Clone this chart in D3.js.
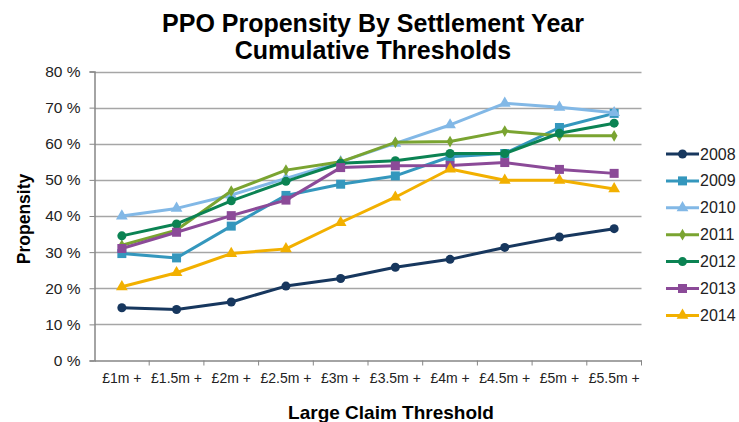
<!DOCTYPE html>
<html>
<head>
<meta charset="utf-8">
<script src="https://cdn.jsdelivr.net/npm/d3@7"></script>
<style>
body { margin: 0; background: #fff; }
svg text { font-family: "Liberation Sans", Arial, sans-serif; }
</style>
</head>
<body>
<svg id="canvas"></svg>
<script>
let thresholds = ["£1m +","£1.5m +","£2m +","£2.5m +","£3m +","£3.5m +","£4m +","£4.5m +","£5m +","£5.5m +"];
let years = ["2008","2009","2010","2011","2012","2013","2014"];

let y2008 = [14.6,14.1,16.2,20.6,22.7,25.8,28.0,31.3,34.2,36.5];
let y2009 = [29.6,28.4,37.2,45.7,48.8,51.1,56.4,57.3,64.5,68.4];
let y2010 = [40.0,42.1,45.8,50.4,55.0,60.1,65.2,71.2,70.1,68.6];
let y2011 = [31.9,36.1,46.9,52.7,55.0,60.4,60.6,63.5,62.2,62.2];
let y2012 = [34.5,37.8,44.2,49.6,54.6,55.3,57.3,57.3,62.9,65.7];
let y2013 = [31.0,35.5,40.1,44.4,53.4,53.9,54.0,54.8,52.9,51.8];
let y2014 = [20.4,24.3,29.6,30.9,38.2,45.2,53.0,49.9,49.9,47.5];

let yTicks = [0,10,20,30,40,50,60,70,80];

let colors = ["#17375e","#3497bd","#82b8e6","#7aa431","#0b8353","#8b4a98","#f2b000"];
let shapes = ["circle","square","triangle","diamond","circle","square","triangle"];

let seriesValues = [y2008,y2009,y2010,y2011,y2012,y2013,y2014];

let width = 739;
let height = 422;
let plotLeft = 94.5;
let plotRight = 641.5;
let plotTop = 71.5;
let plotBottom = 360.5;

let canvas = d3.select("#canvas");
canvas.attr("width",width).attr("height",height);

let xScale = d3.scaleBand()
               .domain(thresholds)
               .range([plotLeft,plotRight]);

let yScale = d3.scaleLinear()
               .domain([0,80])
               .range([plotBottom,plotTop]);

let symbolFor = (shape) =>{
    if(shape==="circle") return d3.symbol(d3.symbolCircle,64);
    if(shape==="square") return d3.symbol(d3.symbolSquare,81);
    if(shape==="triangle") return d3.symbol(d3.symbolTriangle,60);
    return d3.symbol(d3.symbolDiamond,40);
}

// gridlines
canvas.append("g")
      .selectAll("line")
      .data(yTicks.filter(d=>d>0))
      .enter()
      .append("line")
      .attr("x1",plotLeft)
      .attr("x2",plotRight)
      .attr("y1",d=>Math.round(yScale(d))+0.5)
      .attr("y2",d=>Math.round(yScale(d))+0.5)
      .attr("stroke","#a6a6a6")
      .attr("stroke-width",1.3)

// y axis
let yAxis = d3.axisLeft(yScale)
              .tickValues(yTicks)
              .tickSize(5)
              .tickPadding(9)
              .tickFormat(d=>d+" %");

let gy = canvas.append("g")
      .attr("transform","translate("+plotLeft+",0)")
      .call(yAxis);
gy.select(".domain").attr("stroke","#868686").attr("stroke-width",1.5);
gy.selectAll(".tick line").attr("stroke","#868686");
gy.selectAll(".tick text").attr("font-size","15.5px").attr("fill","#222")
  .style("font-family","'Liberation Sans', Arial, sans-serif");

// x axis
let xAxis = d3.axisBottom(xScale)
              .tickSize(0)
              .tickPadding(13);

let gx = canvas.append("g")
      .attr("transform","translate(0,"+plotBottom+")")
      .call(xAxis);
gx.select(".domain").attr("stroke","#868686").attr("stroke-width",1.5);
gx.selectAll(".tick text").attr("font-size","14px").attr("fill","#222")
  .style("font-family","'Liberation Sans', Arial, sans-serif");

// tick marks at band boundaries
canvas.append("g")
      .selectAll("line")
      .data(thresholds)
      .enter()
      .append("line")
      .attr("x1",d=>xScale(d)+xScale.bandwidth())
      .attr("x2",d=>xScale(d)+xScale.bandwidth())
      .attr("y1",plotBottom)
      .attr("y2",plotBottom+5)
      .attr("stroke","#868686")

let line = d3.line()
             .x((d,i)=>xScale(thresholds[i])+xScale.bandwidth()/2)
             .y(d=>yScale(d));

years.forEach((yr,k)=>{
    let g = canvas.append("g");
    g.append("path")
     .datum(seriesValues[k])
     .attr("d",line)
     .attr("fill","none")
     .attr("stroke",colors[k])
     .attr("stroke-width",3)
     .attr("stroke-linejoin","round");
    g.selectAll("path.pt")
     .data(seriesValues[k])
     .enter()
     .append("path")
     .attr("class","pt")
     .attr("d",symbolFor(shapes[k]))
     .attr("transform",(d,i)=>"translate("+(xScale(thresholds[i])+xScale.bandwidth()/2)+","+yScale(d)+")")
     .attr("fill",colors[k]);
});

// legend
let legend = canvas.append("g");
years.forEach((yr,k)=>{
    let ly = 154 + k*26.9;
    legend.append("line")
          .attr("x1",666).attr("x2",699)
          .attr("y1",ly).attr("y2",ly)
          .attr("stroke",colors[k]).attr("stroke-width",3);
    legend.append("path")
          .attr("d",symbolFor(shapes[k]))
          .attr("transform","translate(682.5,"+ly+")")
          .attr("fill",colors[k]);
    legend.append("text")
          .attr("x",700).attr("y",ly+5.5)
          .attr("font-size","16px").attr("fill","#222")
          .text(yr);
});

// titles
canvas.append("text")
      .attr("x",373).attr("y",31.5)
      .attr("text-anchor","middle")
      .attr("font-size","25px").attr("font-weight","bold")
      .text("PPO Propensity By Settlement Year");
canvas.append("text")
      .attr("x",373).attr("y",59)
      .attr("text-anchor","middle")
      .attr("font-size","25px").attr("font-weight","bold")
      .text("Cumulative Thresholds");

canvas.append("text")
      .attr("transform","translate(30,219) rotate(-90)")
      .attr("text-anchor","middle")
      .attr("font-size","17.5px").attr("font-weight","bold")
      .text("Propensity");

canvas.append("text")
      .attr("x",391).attr("y",419)
      .attr("text-anchor","middle")
      .attr("font-size","19px").attr("font-weight","bold")
      .text("Large Claim Threshold");
</script>
</body>
</html>
